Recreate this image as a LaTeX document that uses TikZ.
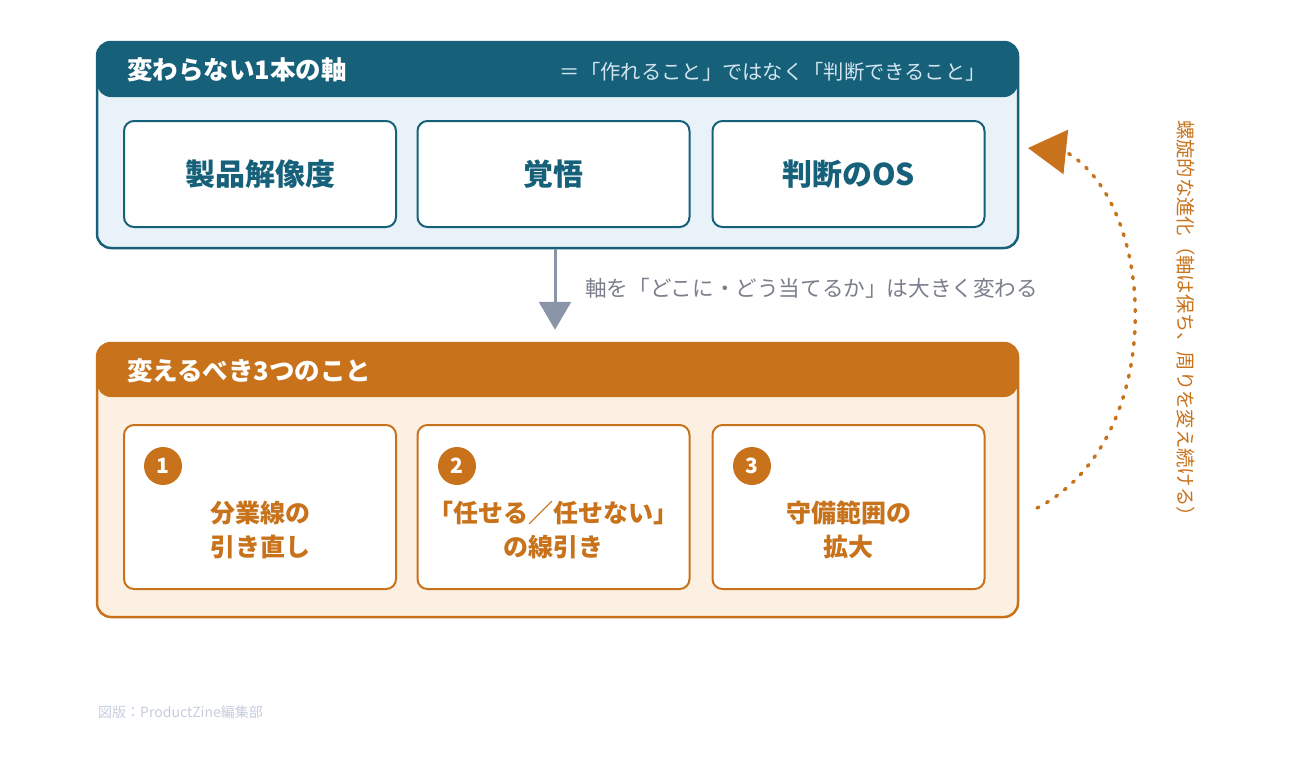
\documentclass[tikz,border=0pt]{standalone}
\usepackage{fontspec}
\setmainfont{Noto Sans CJK JP}
\usetikzlibrary{arrows.meta}
\definecolor{teal}{HTML}{16607A}
\definecolor{bluebody}{HTML}{E9F2F8}
\definecolor{orng}{HTML}{C8731B}
\definecolor{orngbody}{HTML}{FCF0E2}
\definecolor{arrowgray}{HTML}{8A95A8}
\definecolor{labelgray}{HTML}{7B7F8C}
\definecolor{hdrlight}{HTML}{D3E6EF}
\definecolor{footgray}{HTML}{C5CDDD}
\begin{document}
\begin{tikzpicture}[x=1pt,y=-1pt,
  outerbox/.style={draw=#1, line width=2.5pt, rounded corners=14pt, minimum width=921pt, inner sep=0pt},
  innerbox/.style={draw=#1, fill=white, line width=2pt, rounded corners=10pt, minimum width=272pt, inner sep=0pt},
  hdrtitle/.style={text=white, font=\bfseries\fontsize{25.5}{28}\selectfont, inner sep=0pt},
  toptext/.style={text=teal, font=\bfseries\fontsize{30}{34}\selectfont, inner sep=0pt},
  bottext/.style={text=orng, font=\bfseries\fontsize{25}{34}\selectfont, align=center, inner sep=0pt},
  numcirc/.style={circle, fill=orng, minimum size=38pt, inner sep=0pt, text=white, font=\bfseries\fontsize{21}{24}\selectfont}
]
\useasboundingbox (0,0) rectangle (1300,758);
\fill[white] (0,0) rectangle (1300,758);

% top box
\node[outerbox=teal, fill=bluebody, minimum height=206pt,
  path picture={\fill[teal] ([yshift=2pt]path picture bounding box.north west) rectangle ([yshift=-55pt]path picture bounding box.north east);}]
  (axis) at (557.5,145) {};
\node[hdrtitle, anchor=west] (axistitle) at (127,70) {変わらない1本の軸};
\node[text=hdrlight, font=\fontsize{20.3}{24}\selectfont, inner sep=0pt, anchor=east] (axissub) at (986,72) {＝「作れること」ではなく「判断できること」};

\node[innerbox=teal, minimum height=106pt] (a1) at (260,174) {};
\node[innerbox=teal, minimum height=106pt] (a2) at (553.5,174) {};
\node[innerbox=teal, minimum height=106pt] (a3) at (848.5,174) {};
\node[toptext] (a1t) at (a1.center) {製品解像度};
\node[toptext] (a2t) at (a2.center) {覚悟};
\node[toptext] (a3t) at (a3.center) {判断のOS};

% bottom box
\node[outerbox=orng, fill=orngbody, minimum height=274pt,
  path picture={\fill[orng] ([yshift=2pt]path picture bounding box.north west) rectangle ([yshift=-54pt]path picture bounding box.north east);}]
  (change) at (557.5,480) {};
\node[hdrtitle, anchor=west] (changetitle) at (127,371) {変えるべき3つのこと};

\node[innerbox=orng, minimum height=164pt] (b1) at (260,507) {};
\node[innerbox=orng, minimum height=164pt] (b2) at (553.5,507) {};
\node[innerbox=orng, minimum height=164pt] (b3) at (848.5,507) {};
\node[numcirc] (n1) at (163,466) {1};
\node[numcirc] (n2) at (457,466) {2};
\node[numcirc] (n3) at (752,466) {3};
\node[bottext] (b1t) at (260,530) {分業線の\\引き直し};
\node[bottext] (b2t) at (553.5,530) {「任せる／任せない」\\の線引き};
\node[bottext] (b3t) at (848.5,530) {守備範囲の\\拡大};

% down arrow
\draw[arrowgray, line width=3pt, -{Triangle[length=28pt,width=32pt]}, shorten >=12pt]
  (axis.south -| 555,0) -- (change.north -| 555,0);
\node[text=labelgray, font=\fontsize{21.6}{24}\selectfont, inner sep=0pt, anchor=west] (lbl) at (585,288) {軸を「どこに・どう当てるか」は大きく変わる};

% spiral arrow
\coordinate (sp0) at (1037,508);
\coordinate (sp1) at (1066,152);
\coordinate (sp2) at (1028,148);
\draw[orng, line width=3.5pt, line cap=round, dash pattern=on 2pt off 9pt, -{Triangle[length=38pt,width=44pt]}]
  (sp0) .. controls (1168,440) and (1158,205) .. (sp1) -- (sp2);
\node[text=orng, font=\fontsize{19.3}{22}\selectfont, inner sep=0pt, rotate=-90] (spl) at (1186,323) {螺旋的な進化（軸は保ち、周りを変え続ける）};

% footer
\node[text=footgray, font=\fontsize{14}{16}\selectfont, inner sep=0pt, anchor=west] (foot) at (98,712) {図版：ProductZine編集部};
\end{tikzpicture}
\end{document}
